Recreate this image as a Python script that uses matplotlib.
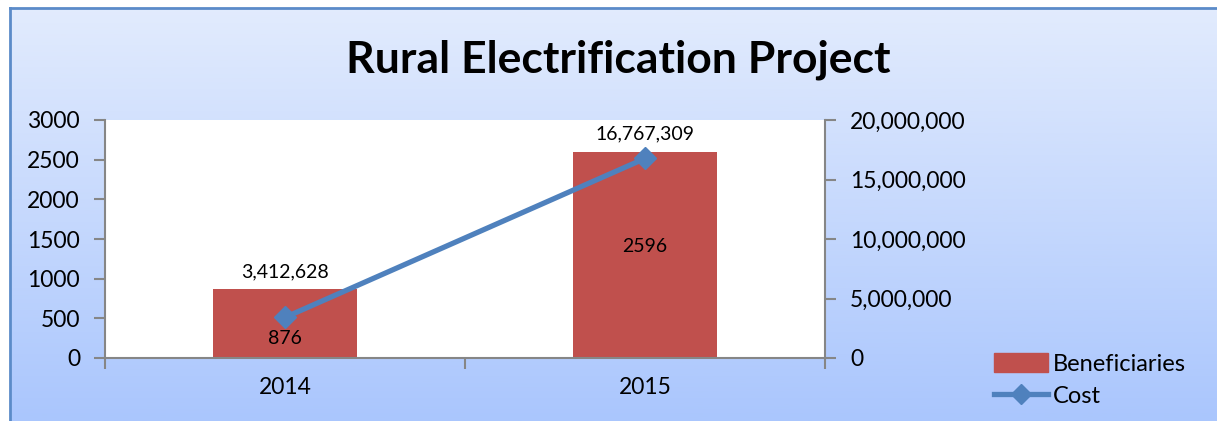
import matplotlib
matplotlib.use("Agg")
import matplotlib.pyplot as plt
import numpy as np
from matplotlib.lines import Line2D
from matplotlib.patches import Patch, Rectangle
from matplotlib.ticker import FuncFormatter

plt.rcParams['font.family'] = ['Lato', 'DejaVu Sans']

# data
years = ['2014', '2015']
beneficiaries = [876, 2596]
cost = [3412628, 16767309]

bar_color = '#C0504D'
line_color = '#4F81BD'
axis_gray = '#868686'

fig = plt.figure(figsize=(12.17, 4.21), dpi=100)

# gradient background
bg = fig.add_axes([0, 0, 1, 1], zorder=-5)
grad = np.linspace(0, 1, 256).reshape(-1, 1)
top = np.array([227, 236, 253]) / 255
bot = np.array([170, 198, 253]) / 255
img = top + (bot - top) * grad[:, :, None]
bg.imshow(img, aspect='auto', extent=[0, 1, 0, 1], origin='upper')
bg.set_xlim(0, 1)
bg.set_ylim(0, 1)
bg.axis('off')
# white area outside the chart frame
bg.add_patch(Rectangle((0, 0), 10 / 1217, 1, color='white', zorder=2))
bg.add_patch(Rectangle((0, 1 - 8 / 421), 1, 8 / 421, color='white', zorder=2))
bg.plot([10 / 1217, 10 / 1217], [0, 1 - 8 / 421], color='#5B8BC9', lw=2, zorder=3)
bg.plot([10 / 1217, 1], [1 - 8 / 421, 1 - 8 / 421], color='#5B8BC9', lw=2, zorder=3)

ax = fig.add_axes([105 / 1217, 63 / 421, 720 / 1217, 238 / 421])
ax.set_facecolor('white')
x = np.arange(len(years))
bars = ax.bar(x, beneficiaries, width=0.4, color=bar_color, zorder=2)
ax.set_xlim(-0.5, 1.5)
ax.set_ylim(0, 3000)
ax.set_yticks(range(0, 3001, 500))
ax.set_xticks([-0.5, 0.5, 1.5])
ax.set_xticklabels([])
ax.set_xticks(x, minor=True)
ax.set_xticklabels(years, minor=True, fontsize=16.5)
ax.tick_params(axis='x', which='minor', length=0, pad=14)
ax.tick_params(axis='x', which='major', length=8, color=axis_gray, width=1.5)
ax.tick_params(axis='y', length=8, color=axis_gray, width=1.5, labelsize=16.5, pad=10)
for s in ['top', 'right']:
    ax.spines[s].set_visible(False)
for s in ['left', 'bottom']:
    ax.spines[s].set_color(axis_gray)
    ax.spines[s].set_linewidth(1.5)

bar_offsets = [-11, 6]
for i, v in enumerate(beneficiaries):
    ax.annotate(str(v), (x[i], v / 2), xytext=(0, bar_offsets[i]),
                textcoords='offset points', ha='center', va='center', fontsize=14, zorder=5)

ax2 = ax.twinx()
ax2.plot(x, cost, color=line_color, lw=3.8, marker='D', markersize=11, zorder=4)
ax2.set_ylim(0, 20000000)
ax2.set_yticks(range(0, 20000001, 5000000))
ax2.yaxis.set_major_formatter(FuncFormatter(lambda v, p: f'{int(v):,}'))
ax2.tick_params(axis='y', length=8, color=axis_gray, width=1.5, labelsize=16.5, pad=10)
for s in ['top', 'left', 'bottom']:
    ax2.spines[s].set_visible(False)
ax2.spines['right'].set_color(axis_gray)
ax2.spines['right'].set_linewidth(1.5)

cost_offsets = [33, 18]
for i, v in enumerate(cost):
    ax2.annotate(f'{v:,}', (x[i], v), xytext=(0, cost_offsets[i]),
                 textcoords='offset points', ha='center', va='center', fontsize=14)

fig.text(618 / 1217, 1 - 60 / 421, 'Rural Electrification Project',
         ha='center', va='center', fontsize=32, fontweight='bold')

handles = [Patch(color=bar_color), Line2D([], [], color=line_color, lw=3.8, marker='D', markersize=10)]
fig.legend(handles, ['Beneficiaries', 'Cost'], loc='center left',
           bbox_to_anchor=(994 / 1217, 1 - 380 / 421), frameon=False, fontsize=17,
           handlelength=2.3, handleheight=0.8, handletextpad=0.2, labelspacing=0.45,
           borderaxespad=0, borderpad=0)

fig.savefig('out.png', dpi=100)
